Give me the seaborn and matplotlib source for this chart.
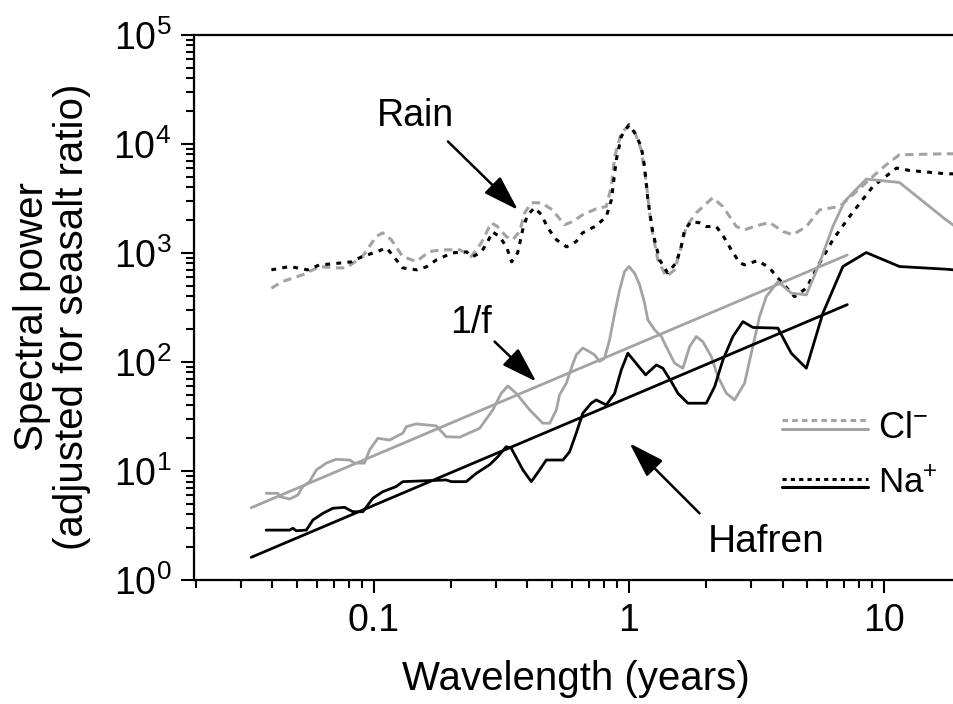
import numpy as np
import pandas as pd
import seaborn as sns
import matplotlib.pyplot as plt
from matplotlib.lines import Line2D
from matplotlib.ticker import (FixedLocator, FixedFormatter, LogLocator,
                               NullFormatter, LogFormatterSciNotation)

# rain, Cl- (grey dashed)
rain_cl_x = [0.0396, 0.0438, 0.0525, 0.0612, 0.0711, 0.0778, 0.0902, 0.102, 0.108, 0.117,
             0.1295, 0.1466, 0.165, 0.186, 0.217, 0.241, 0.2636, 0.2884, 0.305, 0.330,
             0.35, 0.3725, 0.390, 0.414, 0.453, 0.501, 0.559, 0.601, 0.658, 0.744,
             0.815, 0.853, 0.879, 0.933, 0.99, 1.052, 1.117, 1.169, 1.223, 1.298,
             1.40, 1.51, 1.603, 1.678, 1.836, 2.128, 2.335, 2.636, 2.84, 3.157,
             3.559, 4.015, 4.39, 4.96, 5.59, 6.70, 7.55, 9.04, 10.2, 11.5, 17.5, 18.8]
rain_cl_y = [474, 545, 629, 749, 728, 728, 925, 1412, 1525, 1316,
             925, 832, 1028, 1066, 1066, 925, 1235, 1884, 1743, 1412,
             1316, 1570, 2328, 2877, 2877, 2478, 1806, 1937, 2232, 2534,
             2660, 4057, 7650, 12620, 14420, 12970, 8810, 4385, 1743, 863,
             606, 698, 1142, 1743, 2328, 3197, 2660, 1743, 1626, 1770,
             1897, 1570, 1463, 1743, 2478, 2660, 3404, 5012, 6415, 7925, 8094, 8094]

# rain, Na+ (black dashed)
rain_na_x = [0.0396, 0.0467, 0.055, 0.0612, 0.0689, 0.0817, 0.0894, 0.1024, 0.112, 0.118,
             0.1295, 0.147, 0.1607, 0.176, 0.203, 0.2307, 0.2436, 0.264, 0.279, 0.2918,
             0.311, 0.331, 0.3465, 0.366, 0.383, 0.400, 0.4266, 0.454, 0.48, 0.52,
             0.569, 0.621, 0.658, 0.744, 0.815, 0.853, 0.892, 0.933, 1.0, 1.052,
             1.117, 1.151, 1.186, 1.241, 1.318, 1.416, 1.532, 1.603, 1.652, 1.755,
             1.891, 2.01, 2.198, 2.328, 2.518, 2.716, 2.84, 3.203, 3.559, 3.896,
             4.46, 4.96, 5.59, 6.30, 7.33, 9.04, 11.2, 12.6, 17.5, 18.8]
rain_na_y = [698, 749, 698, 776, 793, 827, 919, 1021, 1111, 959,
             728, 698, 745, 863, 1000, 1021, 919, 1021, 1262, 1558,
             1402, 1135, 827, 1000, 1626, 2232, 2588, 2232, 1695, 1316,
             1135, 1270, 1525, 1770, 2153, 3062, 7130, 11670, 14940, 12620,
             9450, 6190, 3062, 1525, 863, 656, 810, 1142, 1626, 1937,
             1884, 1743, 1743, 1463, 1066, 810, 776, 850, 724, 565,
             397, 474, 805, 1316, 2153, 4057, 5984, 5690, 5308, 5300]

# Hafren, Cl- (grey solid)
hafren_cl_x = [0.0378, 0.042, 0.0427, 0.0467, 0.0503, 0.0526, 0.0559, 0.0594, 0.065, 0.0711,
               0.0802, 0.0839, 0.0918, 0.0961, 0.1036, 0.115, 0.1298, 0.134, 0.1466, 0.1755,
               0.192, 0.217, 0.2596, 0.2925, 0.3157, 0.335, 0.361, 0.408, 0.459, 0.489,
               0.519, 0.534, 0.568, 0.594, 0.621, 0.659, 0.700, 0.733, 0.767, 0.802,
               0.839, 0.879, 0.919, 0.961, 1.0, 1.052, 1.101, 1.151, 1.186, 1.26,
               1.339, 1.40, 1.51, 1.627, 1.729, 1.836, 1.949, 2.102, 2.232, 2.409,
               2.595, 2.84, 3.017, 3.252, 3.455, 3.837, 4.33, 4.96, 5.59, 6.30,
               7.0, 8.52, 11.5, 17.5, 18.8]
hafren_cl_y = [6.24, 6.24, 5.81, 5.53, 6.02, 7.18, 7.98, 10.2, 11.8, 12.8,
               12.6, 11.8, 11.8, 15.6, 19.95, 19.2, 22.2, 25.5, 27.0, 25.9,
               20.6, 20.4, 24.6, 36.3, 51.6, 60.2, 51.6, 36.3, 27.4, 27.4,
               36.3, 49.8, 63.8, 87.5, 116, 134, 124, 116, 101, 108,
               159, 280, 458, 674, 749, 651, 509, 346, 243, 197,
               171, 138, 97.3, 87.5, 138, 171, 153, 112, 73.3, 51.6,
               44.8, 63.8, 120, 261, 397, 545, 427, 412, 805, 1743,
               2958, 4745, 4416, 2009, 1778]

# Hafren, Na+ (black solid)
hafren_na_x = [0.0378, 0.0467, 0.0481, 0.0496, 0.0543, 0.0576, 0.0631, 0.069, 0.0767, 0.0826,
               0.0904, 0.099, 0.1083, 0.122, 0.1298, 0.192, 0.201, 0.230, 0.252, 0.284,
               0.306, 0.330, 0.345, 0.384, 0.414, 0.446, 0.474, 0.519, 0.551, 0.585,
               0.621, 0.659, 0.711, 0.744, 0.815, 0.879, 0.933, 0.99, 1.052, 1.162,
               1.28, 1.358, 1.465, 1.555, 1.702, 2.01, 2.167, 2.335, 2.556, 2.798,
               3.062, 3.837, 4.33, 4.96, 5.76, 6.90, 8.52, 11.5, 17.5, 18.8]
hafren_na_y = [2.87, 2.87, 2.98, 2.83, 2.87, 3.55, 4.09, 4.55, 4.64, 4.23,
               4.23, 5.62, 6.46, 7.18, 7.98, 8.27, 7.98, 7.98, 9.52, 11.4,
               13.5, 16.7, 16.2, 10.2, 7.98, 10.2, 12.6, 12.6, 12.6, 15.0,
               22.2, 33.8, 41.8, 44.8, 40.3, 51.6, 84.5, 120, 101, 76,
               93.8, 87.5, 66, 51.6, 41.8, 41.8, 59.3, 104, 171, 234,
               207, 204, 120, 87.5, 280, 749, 1006, 749, 708, 698]

# 1/f reference lines (end points)
fit_x = [0.033, 7.18]
fit_cl_y = [4.6, 956]
fit_na_y = [1.615, 335]

x_ticks = [0.1, 1, 10]
x_tick_labels = ['0.1', '1', '10']

GREY = '#a3a3a3'

sns.set_theme(style='ticks')
plt.rcParams['font.family'] = ['Liberation Sans', 'DejaVu Sans']
plt.rcParams['mathtext.fontset'] = 'custom'
plt.rcParams['mathtext.rm'] = 'Liberation Sans'
plt.rcParams['mathtext.it'] = 'Liberation Sans:italic'
plt.rcParams['mathtext.bf'] = 'Liberation Sans:bold'
plt.rcParams['lines.scale_dashes'] = False
plt.rcParams['text.color'] = 'black'
plt.rcParams['axes.labelcolor'] = 'black'

fig = plt.figure(figsize=(9.54, 7.04), dpi=100)
# axes run past the right edge, the original figure is cropped there
ax = fig.add_axes([0.2034, 0.1761, 0.8824, 0.7746])
ax.set_xscale('log')
ax.set_yscale('log')

sns.lineplot(x=rain_cl_x, y=rain_cl_y, sort=False, estimator=None, ax=ax,
             color=GREY, linewidth=2.2, linestyle=(0, (6, 4)))
sns.lineplot(x=rain_na_x, y=rain_na_y, sort=False, estimator=None, ax=ax,
             color='black', linewidth=2.2, linestyle=(0, (3.5, 4.5)))
sns.lineplot(x=hafren_cl_x, y=hafren_cl_y, sort=False, estimator=None, ax=ax,
             color=GREY, linewidth=2)
sns.lineplot(x=hafren_na_x, y=hafren_na_y, sort=False, estimator=None, ax=ax,
             color='black', linewidth=2)
sns.lineplot(x=fit_x, y=fit_cl_y, sort=False, estimator=None, ax=ax,
             color=GREY, linewidth=2)
sns.lineplot(x=fit_x, y=fit_na_y, sort=False, estimator=None, ax=ax,
             color='black', linewidth=2)

ax.set_xlim(0.0197, 39.4)
ax.set_ylim(1, 1e5)

ax.xaxis.set_major_locator(FixedLocator(x_ticks))
ax.xaxis.set_major_formatter(FixedFormatter(x_tick_labels))
ax.xaxis.set_minor_locator(LogLocator(base=10, subs=np.arange(2, 10), numticks=50))
ax.xaxis.set_minor_formatter(NullFormatter())
ax.yaxis.set_major_locator(LogLocator(base=10, numticks=10))
ax.yaxis.set_major_formatter(LogFormatterSciNotation())
ax.yaxis.set_minor_locator(LogLocator(base=10, subs=np.arange(2, 10), numticks=50))
ax.yaxis.set_minor_formatter(NullFormatter())

ax.tick_params(which='major', direction='out', length=9.5, width=1.5,
               labelsize=27, pad=7, colors='black')
ax.tick_params(which='minor', direction='out', length=5.5, width=1.5, colors='black')
for s in ax.spines.values():
    s.set_linewidth(1.6)
    s.set_color('black')

# annotations
arrow = dict(arrowstyle='-|>,head_length=1.0,head_width=0.32', color='black',
             lw=1.8, mutation_scale=22, shrinkA=0, shrinkB=0)
ax.annotate('', xy=(0.3667, 2479), xytext=(0.195, 10500), arrowprops=arrow)
ax.text(0.1456, 14420, 'Rain', ha='center', va='baseline', fontsize=27)
ax.annotate('', xy=(0.433, 66), xytext=(0.297, 153.6), arrowprops=arrow)
ax.text(0.241, 183, '1/f', ha='center', va='baseline', fontsize=27)
ax.annotate('', xy=(1.0055, 17.95), xytext=(1.891, 4.09), arrowprops=arrow)
ax.text(3.455, 1.82, 'Hafren', ha='center', va='baseline', fontsize=28)

# hand-made legend
ax.add_line(Line2D([0.699, 0.801], [0.2934, 0.2934], transform=ax.transAxes,
                   color=GREY, lw=2.2, linestyle=(0, (4, 3))))
ax.add_line(Line2D([0.699, 0.801], [0.2764, 0.2764], transform=ax.transAxes,
                   color=GREY, lw=2.2))
ax.text(0.813, 0.2604, 'Cl$^{-}$', transform=ax.transAxes, va='baseline', fontsize=26)
ax.add_line(Line2D([0.699, 0.801], [0.1847, 0.1847], transform=ax.transAxes,
                   color='black', lw=2.2, linestyle=(0, (3, 3))))
ax.add_line(Line2D([0.699, 0.801], [0.170, 0.170], transform=ax.transAxes,
                   color='black', lw=2.2))
ax.text(0.813, 0.160, 'Na$^{+}$', transform=ax.transAxes, va='baseline', fontsize=25)

fig.text(0.604, 0.02, 'Wavelength (years)', ha='center', va='baseline', fontsize=29)
fig.text(0.0545, 0.5497, 'Spectral power\n(adjusted for seasalt ratio)', rotation=90,
         ha='center', va='center', fontsize=29, linespacing=1.08)

fig.savefig('out.png', dpi=100)
